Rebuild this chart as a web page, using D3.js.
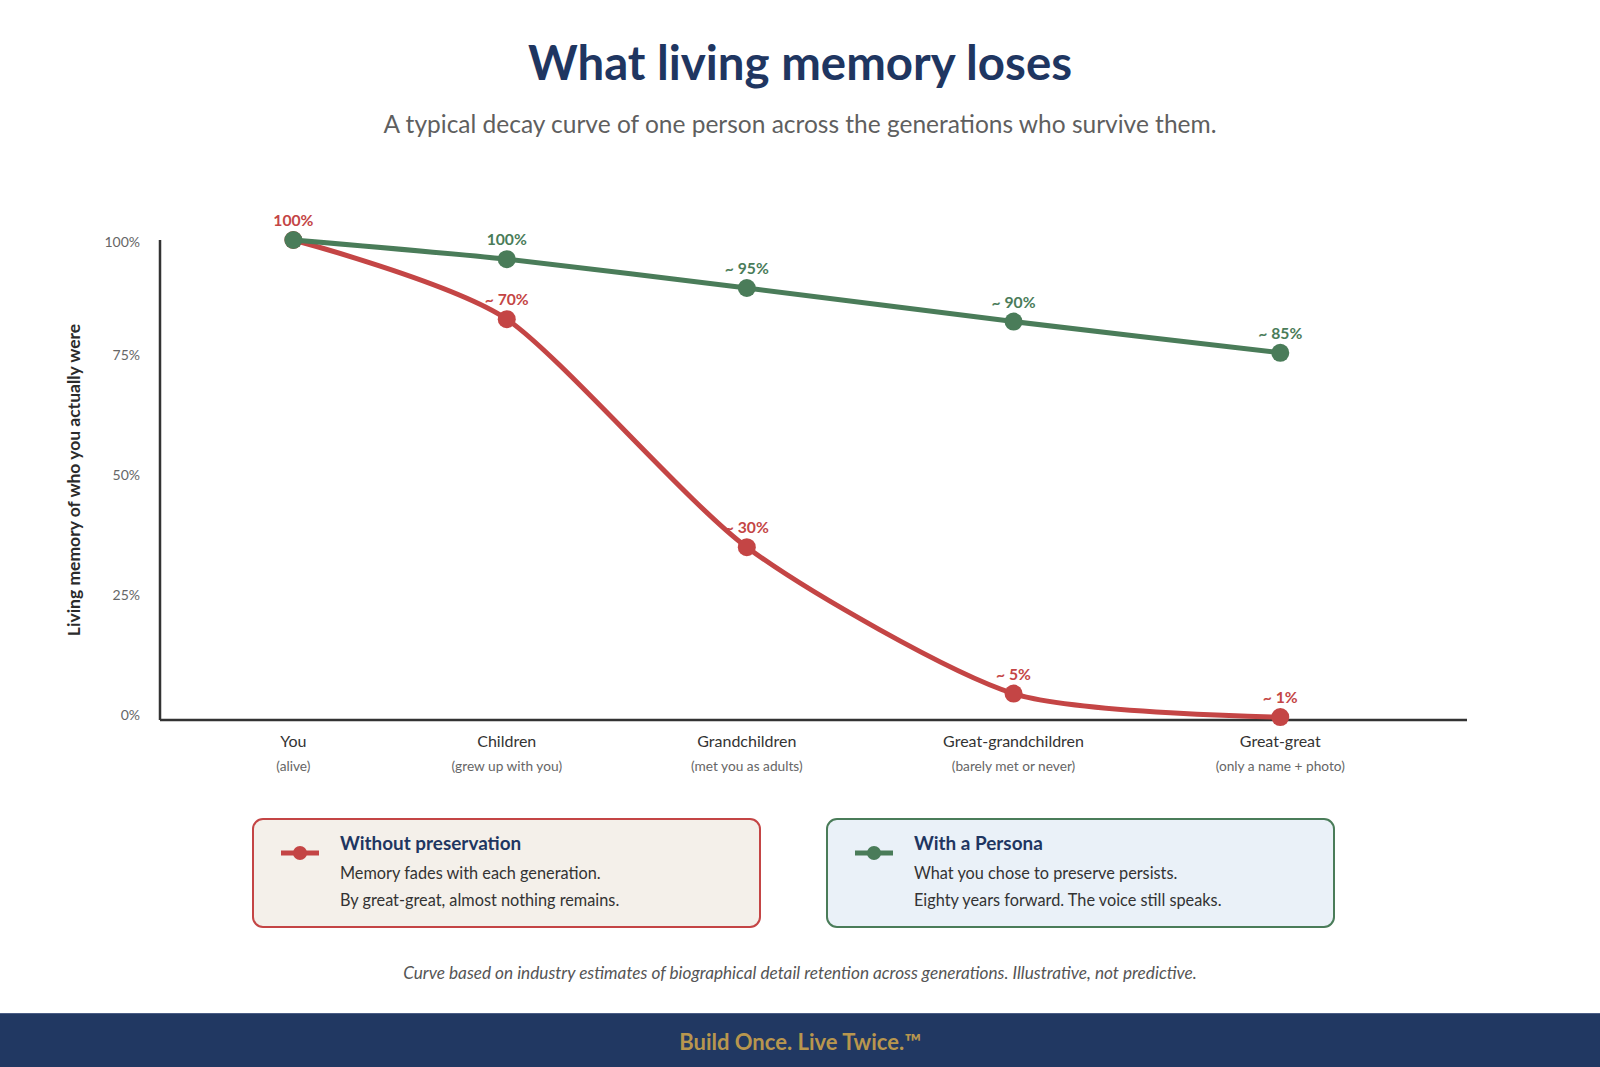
<!DOCTYPE html>
<html>
<head>
<meta charset="utf-8">
<script src="https://cdn.jsdelivr.net/npm/d3@7"></script>
<style>
  body { margin: 0; background: #fff; }
  svg text { font-family: Lato, "Open Sans", sans-serif; }
</style>
</head>
<body>
<div id="chart"></div>
<script>
// data
var generations = ["You", "Children", "Grandchildren", "Great-grandchildren", "Great-great"]
var genNotes = ["(alive)", "(grew up with you)", "(met you as adults)", "(barely met or never)", "(only a name + photo)"]
var genStep = [0, 0.8, 1.7, 2.7, 3.7]   // spacing along the axis is not even
var withoutValues = [100, 83.5, 36, 5.5, 0.6]
var withoutLabels = ["100%", "~ 70%", "~ 30%", "~ 5%", "~ 1%"]
var personaValues = [100, 96, 90, 83, 76.5]
var personaLabels = ["", "100%", "~ 95%", "~ 90%", "~ 85%"]
var yTicks = [0, 25, 50, 75, 100]

var W = 1600, H = 1067
var RED = "#c44545", GREEN = "#4a7c59", NAVY = "#1f3661"

var svg = d3.select("#chart").append("svg").attr("width", W).attr("height", H)

//* titles
svg.append("text").attr("x", W/2).attr("y", 80).attr("text-anchor","middle")
    .style("font-size","47.4px").style("font-weight","700").style("fill", NAVY)
    .text("What living memory loses")
svg.append("text").attr("x", W/2).attr("y", 133).attr("text-anchor","middle")
    .style("font-size","24.5px").style("fill","#5f5f5f")
    .text("A typical decay curve of one person across the generations who survive them.")

//* scales
var x = d3.scaleLinear().domain([-0.5, 4.4]).range([160, 1467])
var y = d3.scaleLinear().domain([0, 100]).range([720, 240])

// axes lines
svg.append("line").attr("x1", x(-0.5)).attr("x2", x(-0.5)).attr("y1", y(100)).attr("y2", y(0))
    .style("stroke","#333").style("stroke-width", 2.5)
svg.append("line").attr("x1", x(-0.5)).attr("x2", x(4.4)).attr("y1", y(0)).attr("y2", y(0))
    .style("stroke","#333").style("stroke-width", 2.5)

yTicks.forEach(function(t){
    svg.append("text").attr("x", 140).attr("y", y(t) + (t==100 ? 7 : 0)).attr("text-anchor","end")
        .style("font-size","14px").style("fill","#666").text(t + "%")
})

svg.append("text").attr("transform","translate(80," + (y(50)) + ") rotate(-90)")
    .attr("text-anchor","middle").style("font-size","17.5px").style("font-weight","700").style("fill","#2b2b2b")
    .text("Living memory of who you actually were")

generations.forEach(function(g, i){
    svg.append("text").attr("x", x(genStep[i])).attr("y", 747).attr("text-anchor","middle")
        .style("font-size","16px").style("fill","#333").text(g)
    svg.append("text").attr("x", x(genStep[i])).attr("y", 771).attr("text-anchor","middle")
        .style("font-size","13.7px").style("fill","#666").text(genNotes[i])
})

//* value labels (drawn under the lines)
function drawLabels(vals, labels, color){
    labels.forEach(function(l, i){
        if(l=="") return
        svg.append("text").attr("x", x(genStep[i])).attr("y", y(vals[i]) - 14).attr("text-anchor","middle")
            .style("font-size","15.7px").style("font-weight","700").style("fill", color).text(l)
    })
}
drawLabels(withoutValues, withoutLabels, RED)
drawLabels(personaValues, personaLabels, GREEN)

var line = d3.line().x(function(d, i){ return x(genStep[i]) }).y(function(d){ return y(d) }).curve(d3.curveCardinal.tension(0.3))

function drawSeries(vals, color){
    svg.append("path").datum(vals).attr("d", line)
        .style("fill","none").style("stroke", color).style("stroke-width", 5).style("stroke-linecap","round")
    svg.selectAll(null).data(vals).enter().append("circle")
        .attr("cx", function(d, i){ return x(genStep[i]) }).attr("cy", function(d){ return y(d) })
        .attr("r", 9).style("fill", color)
}
drawSeries(withoutValues, RED)
drawSeries(personaValues, GREEN)

//* legend cards
var cards = [
    {x: 253, color: RED, fill: "#f4f0ea", title: "Without preservation",
     lines: ["Memory fades with each generation.", "By great-great, almost nothing remains."]},
    {x: 827, color: GREEN, fill: "#eaf1f8", title: "With a Persona",
     lines: ["What you chose to preserve persists.", "Eighty years forward. The voice still speaks."]}
]
cards.forEach(function(c){
    var g = svg.append("g").attr("transform","translate(" + c.x + ",819)")
    g.append("rect").attr("width", 507).attr("height", 108).attr("rx", 10)
        .style("fill", c.fill).style("stroke", c.color).style("stroke-width", 2)
    g.append("line").attr("x1", 28).attr("x2", 66).attr("y1", 34).attr("y2", 34)
        .style("stroke", c.color).style("stroke-width", 5)
    g.append("circle").attr("cx", 47).attr("cy", 34).attr("r", 7).style("fill", c.color)
    g.append("text").attr("x", 87).attr("y", 31).style("font-size","18.9px").style("font-weight","700")
        .style("fill", NAVY).text(c.title)
    c.lines.forEach(function(l, i){
        g.append("text").attr("x", 87).attr("y", 60 + i*27).style("font-size","16.3px").style("fill","#333").text(l)
    })
})

svg.append("text").attr("x", W/2).attr("y", 979).attr("text-anchor","middle")
    .style("font-size","17.2px").style("font-style","italic").style("fill","#555")
    .text("Curve based on industry estimates of biographical detail retention across generations. Illustrative, not predictive.")

//* footer band
svg.append("rect").attr("x", 0).attr("y", 1013).attr("width", W).attr("height", H - 1013).style("fill", "#213862")
svg.append("line").attr("x1", 0).attr("x2", W).attr("y1", 1013.5).attr("y2", 1013.5).style("stroke","#4a5d85").style("stroke-width", 1)
svg.append("text").attr("x", W/2).attr("y", 1050).attr("text-anchor","middle")
    .style("font-size","22px").style("font-weight","700").style("fill","#b8964e")
    .text("Build Once. Live Twice.™")
</script>
</body>
</html>
